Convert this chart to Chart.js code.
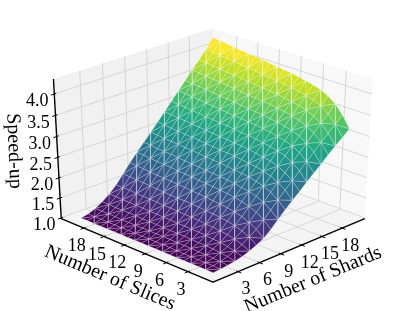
<!DOCTYPE html>
<html><head><meta charset="utf-8">
<style>html,body{margin:0;padding:0;background:#fff}canvas{display:block}</style>
<script src="https://cdn.jsdelivr.net/npm/chart.js@4"></script>
</head><body><canvas id="c" width="415" height="311"></canvas>
<script>
const shardValues=[1,2,3,4,5,6,7,8,9,10,11,12,13,14,15,16,17,18,19,20];
const sliceValues=[1,2,3,4,5,6,7,8,9,10,11,12,13,14,15,16,17,18,19,20];
const shardTicks=[3,6,9,12,15,18];
const sliceTicks=[3,6,9,12,15,18];
const speedTicks=['1.0','1.5','2.0','2.5','3.0','3.5','4.0'];
const xLabel='Number of Shards', yLabel='Number of Slices', zLabel='Speed-up';
// speed-up by slices, one list per shard count
const s01=[1.00,1.00,1.00,1.00,1.00,1.00,1.00,1.00,1.00,1.00,1.00,1.00,1.00,1.00,1.00,1.00,1.00,1.00,1.00,1.00];
const s02=[1.01,1.02,1.02,1.02,1.02,1.02,1.02,1.03,1.03,1.03,1.03,1.03,1.03,1.03,1.03,1.03,1.03,1.03,1.03,1.03];
const s03=[1.03,1.05,1.06,1.07,1.07,1.08,1.08,1.08,1.09,1.09,1.09,1.09,1.09,1.09,1.09,1.09,1.10,1.10,1.10,1.10];
const s04=[1.06,1.10,1.12,1.14,1.15,1.15,1.16,1.17,1.17,1.17,1.17,1.18,1.18,1.18,1.19,1.19,1.19,1.19,1.20,1.20];
const s05=[1.10,1.16,1.20,1.23,1.24,1.26,1.27,1.27,1.28,1.28,1.29,1.29,1.30,1.30,1.31,1.31,1.32,1.32,1.33,1.33];
const s06=[1.16,1.25,1.31,1.35,1.37,1.39,1.40,1.42,1.43,1.43,1.44,1.45,1.45,1.46,1.47,1.47,1.48,1.49,1.49,1.50];
const s07=[1.24,1.36,1.44,1.50,1.54,1.56,1.58,1.59,1.61,1.62,1.63,1.63,1.64,1.65,1.66,1.67,1.68,1.69,1.70,1.71];
const s08=[1.33,1.48,1.58,1.65,1.70,1.73,1.75,1.77,1.79,1.80,1.81,1.83,1.84,1.85,1.86,1.87,1.88,1.90,1.91,1.92];
const s09=[1.48,1.64,1.76,1.83,1.88,1.92,1.94,1.96,1.98,1.99,2.00,2.02,2.03,2.04,2.06,2.07,2.08,2.09,2.11,2.12];
const s10=[1.65,1.81,1.93,2.01,2.06,2.09,2.12,2.14,2.16,2.17,2.18,2.20,2.21,2.22,2.24,2.25,2.26,2.27,2.29,2.30];
const s11=[1.82,1.99,2.11,2.19,2.24,2.28,2.30,2.32,2.34,2.36,2.37,2.38,2.40,2.41,2.42,2.44,2.45,2.46,2.48,2.49];
const s12=[1.98,2.16,2.28,2.37,2.42,2.46,2.48,2.51,2.53,2.54,2.55,2.57,2.58,2.60,2.61,2.62,2.64,2.65,2.67,2.68];
const s13=[2.13,2.32,2.45,2.54,2.60,2.63,2.66,2.69,2.71,2.72,2.74,2.75,2.77,2.78,2.80,2.81,2.83,2.84,2.86,2.87];
const s14=[2.29,2.49,2.63,2.72,2.78,2.82,2.85,2.88,2.90,2.91,2.93,2.95,2.96,2.98,2.99,3.01,3.02,3.04,3.05,3.07];
const s15=[2.44,2.65,2.80,2.90,2.96,3.00,3.04,3.06,3.09,3.10,3.12,3.14,3.15,3.17,3.19,3.20,3.22,3.24,3.25,3.27];
const s16=[2.59,2.81,2.96,3.07,3.14,3.18,3.22,3.24,3.27,3.29,3.30,3.32,3.34,3.36,3.37,3.39,3.41,3.43,3.44,3.46];
const s17=[2.75,2.98,3.14,3.25,3.32,3.37,3.41,3.43,3.46,3.48,3.50,3.51,3.53,3.55,3.57,3.59,3.61,3.62,3.64,3.66];
const s18=[2.90,3.14,3.31,3.42,3.50,3.55,3.58,3.61,3.64,3.66,3.68,3.70,3.72,3.74,3.76,3.77,3.79,3.81,3.83,3.85];
const s19=[3.04,3.29,3.47,3.60,3.68,3.73,3.77,3.80,3.83,3.85,3.87,3.89,3.91,3.93,3.95,3.97,3.99,4.01,4.03,4.05];
const s20=[3.18,3.45,3.65,3.78,3.87,3.92,3.96,4.00,4.03,4.05,4.07,4.10,4.12,4.14,4.16,4.18,4.20,4.23,4.25,4.27];
const surface=[s01,s02,s03,s04,s05,s06,s07,s08,s09,s10,s11,s12,s13,s14,s15,s16,s17,s18,s19,s20];

// 3D axes -> screen, a perspective view at 30 degrees elevation
const sLim=[-0.42,21.41], lLim=[-0.42,21.41], zLim=[0.98,4.345];
const fx=s=>(s-sLim[0])/(sLim[1]-sLim[0]);
const fy=l=>(l-lLim[0])/(lLim[1]-lLim[0]);
const fz=z=>(z-zLim[0])/(zLim[1]-zLim[0]);
const EL=Math.PI/6, R=Math.SQRT1_2;
function view(a,b,c){
  const h=(a-b)*R, t=-(a+b-1)*R, z=c-.5;
  const w=t*Math.cos(EL)+z*Math.sin(EL), v=z*Math.cos(EL)-t*Math.sin(EL);
  return {x:213+2200*h/(10-w), y:150.6-1612*v/(10-w), d:10-w};
}
const pt=(a,b,c)=>{const p=view(a,b,c);return {x:p.x,y:p.y};};

const viridis=[[68,1,84],[72,36,117],[65,68,135],[53,95,141],[42,120,142],[33,145,140],[34,168,132],[68,191,112],[122,209,81],[189,223,38],[253,231,37]];
function cmap(f){
  f=Math.max(0,Math.min(1,f))*(viridis.length-1);
  const i=Math.min(viridis.length-2,Math.floor(f)), k=f-i;
  const c=[0,1,2].map(n=>Math.round(viridis[i][n]+(viridis[i+1][n]-viridis[i][n])*k));
  return `rgb(${c[0]},${c[1]},${c[2]})`;
}

const layers=[];
function poly(points,color){layers.push({data:[...points,points[0]],fill:'shape',backgroundColor:color,borderWidth:0,borderColor:'transparent'});}
function line(points,color,width){layers.push({data:points,fill:false,borderColor:color,borderWidth:width});}

// panes
poly([pt(0,1,0),pt(1,1,0),pt(1,1,1),pt(0,1,1)],'#f1f1f1');
poly([pt(1,1,0),pt(1,0,0),pt(1,0,1),pt(1,1,1)],'#f8f8f8');
poly([pt(0,0,0),pt(1,0,0),pt(1,1,0),pt(0,1,0)],'#f4f4f4');
// grid
const GRID='#d2d2d2';
shardTicks.forEach(s=>{const a=fx(s);line([pt(a,0,0),pt(a,1,0),pt(a,1,1)],GRID,.9);});
sliceTicks.forEach(l=>{const b=fy(l);line([pt(0,b,0),pt(1,b,0),pt(1,b,1)],GRID,.9);});
speedTicks.forEach(t=>{const c=fz(+t);line([pt(0,1,c),pt(1,1,c),pt(1,0,c)],GRID,.9);});

// surface triangles, far ones first
const tris=[];
for(let i=0;i<shardValues.length-1;i++)for(let j=0;j<sliceValues.length-1;j++){
  const v=(a,b)=>[fx(shardValues[a]),fy(sliceValues[b]),fz(surface[a][b]),surface[a][b]];
  const A=v(i,j),B=v(i+1,j),C=v(i+1,j+1),D=v(i,j+1);
  const pair=(i+j)%2?[[A,B,C],[A,C,D]]:[[A,B,D],[B,C,D]];
  pair.forEach(q=>{
    const m=k=>(q[0][k]+q[1][k]+q[2][k])/3;
    tris.push({q,depth:view(m(0),m(1),m(2)).d,z:m(3)});
  });
}
tris.sort((a,b)=>b.depth-a.depth);
tris.forEach(t=>{
  layers.push({data:[...t.q,t.q[0]].map(p=>pt(p[0],p[1],p[2])),fill:'shape',
    backgroundColor:cmap((t.z-1)/3.15),borderColor:'rgba(255,255,255,0.38)',borderWidth:.6});
});

// axis lines and ticks
const INK='#000';
line([pt(0,1,0),pt(0,0,0),pt(1,0,0)],INK,1.4);
line([pt(0,1,0),pt(0,1,1)],INK,1.4);
shardTicks.forEach(s=>line([pt(fx(s),-.02,0),pt(fx(s),.012,0)],INK,1));
sliceTicks.forEach(l=>line([pt(-.02,fy(l),0),pt(.012,fy(l),0)],INK,1));
speedTicks.forEach(t=>line([pt(-.02,1,fz(+t)),pt(.012,1,fz(+t))],INK,1));

const textPlugin={id:'axisText',afterDatasetsDraw(chart){
  const {ctx,scales:{x,y}}=chart;
  const px=p=>[x.getPixelForValue(p.x),y.getPixelForValue(p.y)];
  const put=(txt,cx,cy,font,rot)=>{ctx.save();ctx.translate(cx,cy);ctx.rotate(rot||0);ctx.font=font;ctx.fillStyle='#000';ctx.textAlign='center';ctx.textBaseline='middle';ctx.fillText(txt,0,0);ctx.restore();};
  const TICK='18px "Liberation Serif"', LAB='20px "Liberation Serif"';
  shardTicks.forEach(s=>{const [a,b]=px(pt(fx(s),0,0));put(String(s),a+8,b+18,TICK);});
  sliceTicks.forEach(l=>{const [a,b]=px(pt(0,fy(l),0));put(String(l),a-7,b+18.5,TICK);});
  speedTicks.forEach(t=>{const [a,b]=px(pt(0,1,fz(+t)));put(t,a-17,b+7.5,TICK);});
  put(xLabel,313,280,LAB,-22.5*Math.PI/180);
  put(yLabel,110,278,LAB,22.8*Math.PI/180);
  put(zLabel,14,151,LAB,87.7*Math.PI/180);
}};

new Chart(document.getElementById('c'),{
  type:'scatter',
  data:{datasets:layers.reverse().map(d=>({...d,showLine:true,tension:0,pointRadius:0,pointHoverRadius:0,clip:false,borderJoinStyle:'round'}))},
  options:{responsive:false,animation:false,events:[],layout:{padding:0},
    plugins:{legend:{display:false},tooltip:{enabled:false},title:{display:false}},
    scales:{x:{type:'linear',min:0,max:415,display:false},y:{type:'linear',min:0,max:311,reverse:true,display:false}}},
  plugins:[textPlugin]
});
</script></body></html>
